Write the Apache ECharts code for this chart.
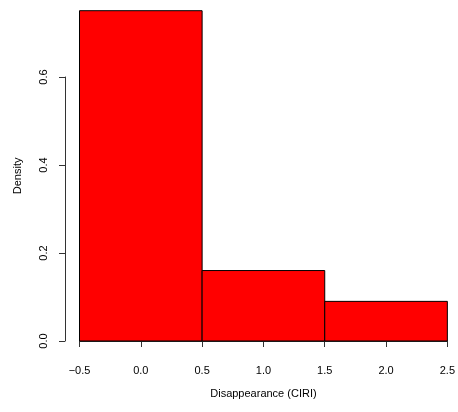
<!DOCTYPE html>
<html><head><meta charset="utf-8">
<script src="https://cdn.jsdelivr.net/npm/echarts@6/dist/echarts.min.js"></script>
<style>html,body{margin:0;padding:0;background:#fff}#c{width:458px;height:412px}</style>
</head><body><div id="c"></div>
<script>
var binStarts = [-0.5, 0.5, 1.5];
var binEnds = [0.5, 1.5, 2.5];
var densities = [0.75, 0.16, 0.09];
var xTicks = [-0.5, 0.0, 0.5, 1.0, 1.5, 2.0, 2.5];
var yTicks = [0.0, 0.2, 0.4, 0.6];

var data = binStarts.map(function (s, i) { return [s, binEnds[i], densities[i]]; });
var font = 'Liberation Sans, Arial, Helvetica, sans-serif';
var chart = echarts.init(document.getElementById('c'), null, {renderer: 'canvas'});
chart.setOption({
  animation: false,
  backgroundColor: '#fff',
  grid: [
    {left: 79.5, right: 10, top: 10.7, bottom: 71},
    {left: 65, width: 10, top: 77, bottom: 71}
  ],
  xAxis: [
    {type: 'value', gridIndex: 0, min: -0.5, max: 2.5, interval: 0.5, offset: 13.5,
     name: 'Disappearance (CIRI)', nameLocation: 'middle', nameGap: 34,
     nameTextStyle: {fontFamily: font, fontSize: 11, color: '#000'},
     axisLine: {show: true, lineStyle: {color: '#333', width: 1}},
     axisTick: {show: true, length: 6, lineStyle: {color: '#333'}},
     axisLabel: {fontFamily: font, fontSize: 11, color: '#000', margin: 11,
       formatter: function (v) { return (v < 0 ? '\u2212' : '') + Math.abs(v).toFixed(1); }},
     splitLine: {show: false}},
    {type: 'value', gridIndex: 1, show: false, min: 0, max: 1}
  ],
  yAxis: [
    {type: 'value', gridIndex: 0, min: 0, max: 0.75,
     name: 'Density', nameLocation: 'middle', nameGap: 56, nameRotate: 90,
     nameTextStyle: {fontFamily: font, fontSize: 11, color: '#000'},
     axisLine: {show: false}, axisTick: {show: false}, axisLabel: {show: false},
     splitLine: {show: false}},
    {type: 'value', gridIndex: 1, min: 0, max: 0.6, interval: 0.2,
     axisLine: {show: true, lineStyle: {color: '#333', width: 1}},
     axisTick: {show: true, length: 6, lineStyle: {color: '#333'}},
     axisLabel: {fontFamily: font, fontSize: 11, color: '#000', rotate: 90, margin: 16,
       formatter: function (v) { return v.toFixed(1); }},
     splitLine: {show: false}}
  ],
  series: [{
    type: 'custom',
    xAxisIndex: 0, yAxisIndex: 0,
    data: data,
    renderItem: function (params, api) {
      var p0 = api.coord([api.value(0), api.value(2)]);
      var p1 = api.coord([api.value(1), 0]);
      return {
        type: 'rect',
        shape: {x: p0[0], y: p0[1], width: p1[0] - p0[0], height: p1[1] - p0[1]},
        style: {fill: '#ff0000', stroke: '#000', lineWidth: 1}
      };
    }
  }]
});
</script></body></html>
